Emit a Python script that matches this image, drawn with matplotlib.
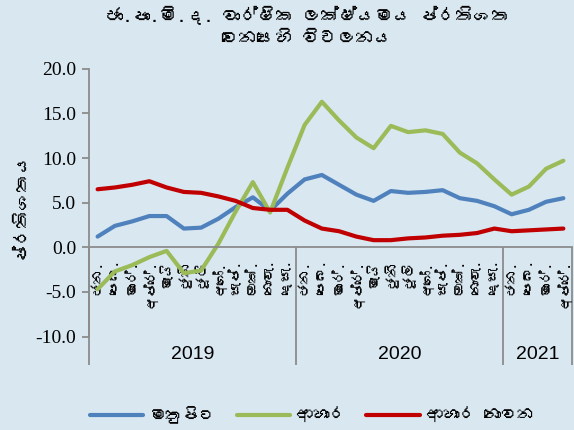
import matplotlib
matplotlib.use("Agg")
import matplotlib.pyplot as plt
from matplotlib import font_manager
import numpy as np

# ---------------- data ----------------
months = ["ජන.", "පෙබ.", "මාර්.", "අප්‍රේ.", "මැයි", "ජුනි", "ජූලි", "අගෝ.",
          "සැප්.", "ඔක්.", "නොවැ.", "දෙසැ."]
month_labels = months + months + months[:4]
years = ["2019", "2020", "2021"]
year_counts = [12, 12, 4]

core = [1.2, 2.4, 2.9, 3.5, 3.5, 2.1, 2.2, 3.2, 4.5, 5.6, 4.1, 6.0,
        7.6, 8.1, 7.0, 5.9, 5.2, 6.3, 6.1, 6.2, 6.4, 5.5, 5.2, 4.6,
        3.7, 4.2, 5.1, 5.5]
food = [-4.7, -2.7, -2.0, -1.1, -0.4, -2.9, -2.6, 0.4, 4.0, 7.3, 3.9, 8.9,
        13.7, 16.3, 14.2, 12.3, 11.1, 13.6, 12.9, 13.1, 12.7, 10.6, 9.4, 7.6,
        5.9, 6.8, 8.8, 9.7]
nonfood = [6.5, 6.7, 7.0, 7.4, 6.7, 6.2, 6.1, 5.7, 5.2, 4.4, 4.2, 4.2,
           3.0, 2.1, 1.8, 1.2, 0.8, 0.8, 1.0, 1.1, 1.3, 1.4, 1.6, 2.1,
           1.8, 1.9, 2.0, 2.1]
series_names = ["මතුපිට", "ආහාර", "ආහාර නොවන"]
title = "ජා.පා.මි.ද. වාර්ෂික ලක්ෂ්‍යමය ප්‍රතිශත\nවෙනසෙහි විචලනය"
ylabel = "ප්‍රතිශතය"
yticks = [-10, -5, 0, 5, 10, 15, 20]

# ---------------- fonts ----------------
def find_font(ch):
    try:
        from fontTools.ttLib import TTFont
    except Exception:
        return None
    for f in font_manager.fontManager.ttflist:
        try:
            tt = TTFont(f.fname, fontNumber=0, lazy=True)
            cmap = tt.getBestCmap()
            if cmap and ord(ch) in cmap:
                return f.name
        except Exception:
            continue
    return None

sin_font = find_font("ජ")
sin_family = [sin_font, "DejaVu Sans"] if sin_font else ["DejaVu Sans"]
plt.rcParams['font.family'] = sin_family

def clean(s):
    # zero-width joiner has no drawable glyph without text shaping
    return s.replace("\u200d", "")

bg = "#D9E7F1"
c_core, c_food, c_nonfood = "#4F81BD", "#9BBB59", "#C00000"
axis_gray = "#8C8C8C"

fig = plt.figure(figsize=(5.74, 4.30), dpi=100, facecolor=bg)
ax = fig.add_axes([0.155, 0.2172, 0.8415, 0.623])
ax.set_facecolor(bg)

n = len(month_labels)
x = np.arange(n) + 0.5
l1, = ax.plot(x, core, color=c_core, lw=3, solid_capstyle='round', solid_joinstyle='round')
l2, = ax.plot(x, food, color=c_food, lw=3, solid_capstyle='round', solid_joinstyle='round')
l3, = ax.plot(x, nonfood, color=c_nonfood, lw=3, solid_capstyle='round', solid_joinstyle='round')

ax.set_xlim(0, n)
ax.set_ylim(-10, 20)

# spines
for s in ["top", "right"]:
    ax.spines[s].set_visible(False)
ax.spines["left"].set_color(axis_gray)
ax.spines["left"].set_linewidth(1.3)
ax.spines["bottom"].set_position(("data", 0))
ax.spines["bottom"].set_color(axis_gray)
ax.spines["bottom"].set_linewidth(1.3)

# y axis
ax.set_yticks(yticks)
ax.set_yticklabels([f"{v:.1f}" for v in yticks], family="Liberation Serif", fontsize=14)
ax.tick_params(axis="y", direction="out", length=5, width=1.3, color=axis_gray, pad=4)

# x axis: major ticks = year separators (long), minor = months
bounds = np.concatenate([[0], np.cumsum(year_counts)])
ax.set_xticks(bounds)
ax.set_xticklabels([""] * len(bounds))
ax.tick_params(axis="x", which="major", direction="out", length=85, width=1.3, color=axis_gray)
ax.set_xticks(x, [clean(m) for m in month_labels], minor=True, rotation=90, fontsize=10)
ax.tick_params(axis="x", which="minor", length=0, pad=9)
for lab in ax.get_xticklabels(minor=True):
    lab.set_verticalalignment("top")

# year labels
trans = ax.get_xaxis_transform()
for i, yr in enumerate(years):
    ax.text((bounds[i] + bounds[i + 1]) / 2, -0.065, yr, transform=trans,
            ha="center", va="center", fontsize=14, family=["Liberation Sans", "DejaVu Sans"])

# title / ylabel
fig.text(0.535, 0.94, clean(title), ha="center", va="center", fontsize=13,
         fontweight="bold", linespacing=1.3)
fig.text(0.035, 0.523, clean(ylabel), rotation=90, ha="center", va="center",
         fontsize=13, fontweight="bold")

fig.legend([l1, l2, l3], [clean(s) for s in series_names], loc="center",
           bbox_to_anchor=(0.544, 0.035), ncol=3, frameon=False, fontsize=12,
           handlelength=3.2, columnspacing=1.2, handletextpad=0.4)

fig.savefig("out.png", dpi=100, facecolor=bg)
